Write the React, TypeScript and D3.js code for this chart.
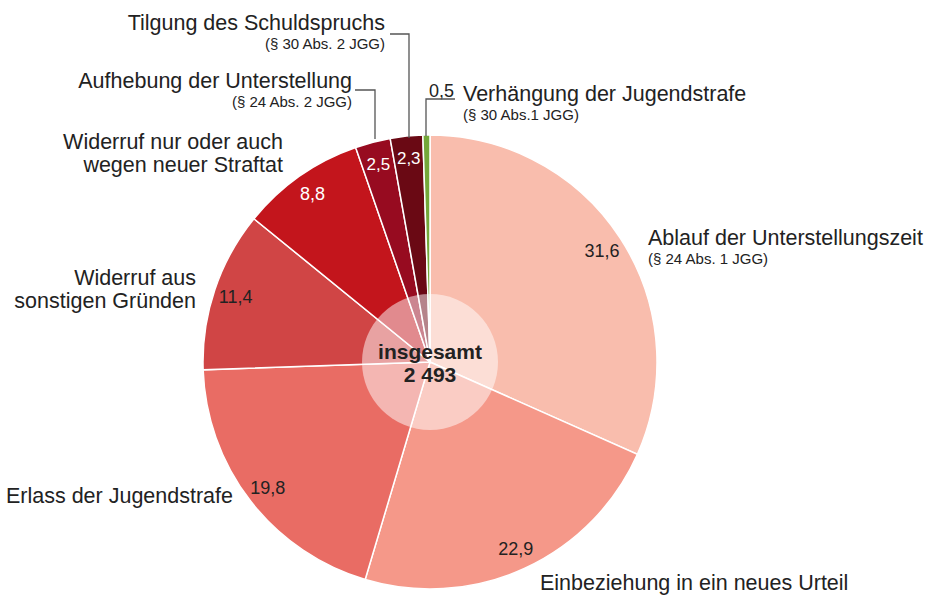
import React from "react";
import * as d3 from "d3";

const categories = [
  "Ablauf der Unterstellungszeit",
  "Einbeziehung in ein neues Urteil",
  "Erlass der Jugendstrafe",
  "Widerruf aus sonstigen Gründen",
  "Widerruf nur oder auch wegen neuer Straftat",
  "Aufhebung der Unterstellung",
  "Tilgung des Schuldspruchs",
  "Verhängung der Jugendstrafe",
];
const values = [31.6, 22.9, 19.8, 11.4, 8.8, 2.5, 2.3, 0.5];
const valueLabels = ["31,6", "22,9", "19,8", "11,4", "8,8", "2,5", "2,3", "0,5"];
const colors = ["#f9bdad", "#f59889", "#e96c64", "#d04545", "#c3151c", "#970b20", "#6a0914", "#74a83a"];
const labelColors = ["#222", "#222", "#222", "#222", "#fff", "#fff", "#fff", "#222"];
const totalLabel = ["insgesamt", "2 493"];

const W = 925, H = 597;
const cx = 430, cy = 362, R = 227;
const FONT = "'Liberation Sans', Arial, Helvetica, sans-serif";

export default function App() {
  const pie = d3.pie<number>().sort(null).value((d) => d);
  const arcs = pie(values);
  const arc = d3.arc<d3.PieArcDatum<number>>().innerRadius(0).outerRadius(R);
  const labelArc = d3.arc<d3.PieArcDatum<number>>().innerRadius(182).outerRadius(228);

  const big = 21.5;
  const small = 15;
  const txt = (x: number, y: number, s: string, size: number, anchor = "start", extra: any = {}) => (
    <text x={x} y={y} fontSize={size} textAnchor={anchor} fill="#222" fontFamily={FONT} {...extra}>{s}</text>
  );

  return (
    <svg width={W} height={H} style={{ position: "absolute", left: 0, top: 0, background: "#fff" }}>
      <g transform={`translate(${cx},${cy})`}>
        {arcs.map((a, i) => (
          <path key={i} d={arc(a) || ""} fill={colors[i]} stroke="#fff" strokeWidth={1.5} />
        ))}
        <circle r={68} fill="#fff" fillOpacity={0.5} />
        {arcs.map((a, i) => {
          if (i === 7) return null;
          const [x, y] = labelArc.centroid(a);
          return (
            <text key={i} x={x} y={y} dy="0.35em" textAnchor="middle" fontSize={i >= 5 ? 17 : 18} fill={labelColors[i]} fontFamily={FONT}>
              {valueLabels[i]}
            </text>
          );
        })}
        <text x={0} y={-3} textAnchor="middle" fontSize={21} fontWeight="bold" fill="#222" fontFamily={FONT}>{totalLabel[0]}</text>
        <text x={0} y={20} textAnchor="middle" fontSize={21} fontWeight="bold" fill="#222" fontFamily={FONT}>{totalLabel[1]}</text>
      </g>

      {/* outer labels */}
      {txt(648, 245, "Ablauf der Unterstellungszeit", big)}
      {txt(648, 264, "(§ 24 Abs. 1 JGG)", small)}
      {txt(540, 590, "Einbeziehung in ein neues Urteil", big)}
      {txt(233, 503, "Erlass der Jugendstrafe", big, "end")}
      {txt(196, 285, "Widerruf aus", big, "end")}
      {txt(196, 308, "sonstigen Gründen", big, "end")}
      {txt(283, 149, "Widerruf nur oder auch", big, "end")}
      {txt(283, 172, "wegen neuer Straftat", big, "end")}
      {txt(352, 88, "Aufhebung der Unterstellung", big, "end")}
      {txt(352, 107, "(§ 24 Abs. 2 JGG)", small, "end")}
      {txt(385, 30, "Tilgung des Schuldspruchs", big, "end")}
      {txt(385, 49, "(§ 30 Abs. 2 JGG)", small, "end")}
      {txt(429, 97, valueLabels[7], 18)}
      {txt(463, 101, "Verhängung der Jugendstrafe", big)}
      {txt(463, 120, "(§ 30 Abs.1 JGG)", small)}

      {/* leader lines */}
      <polyline points="355,90 375,90 375,139" fill="none" stroke="#555" strokeWidth={1.3} />
      <polyline points="390,34 409,34 409,138" fill="none" stroke="#555" strokeWidth={1.3} />
      <polyline points="455,99 426,99 426,136" fill="none" stroke="#555" strokeWidth={1.3} />
    </svg>
  );
}
